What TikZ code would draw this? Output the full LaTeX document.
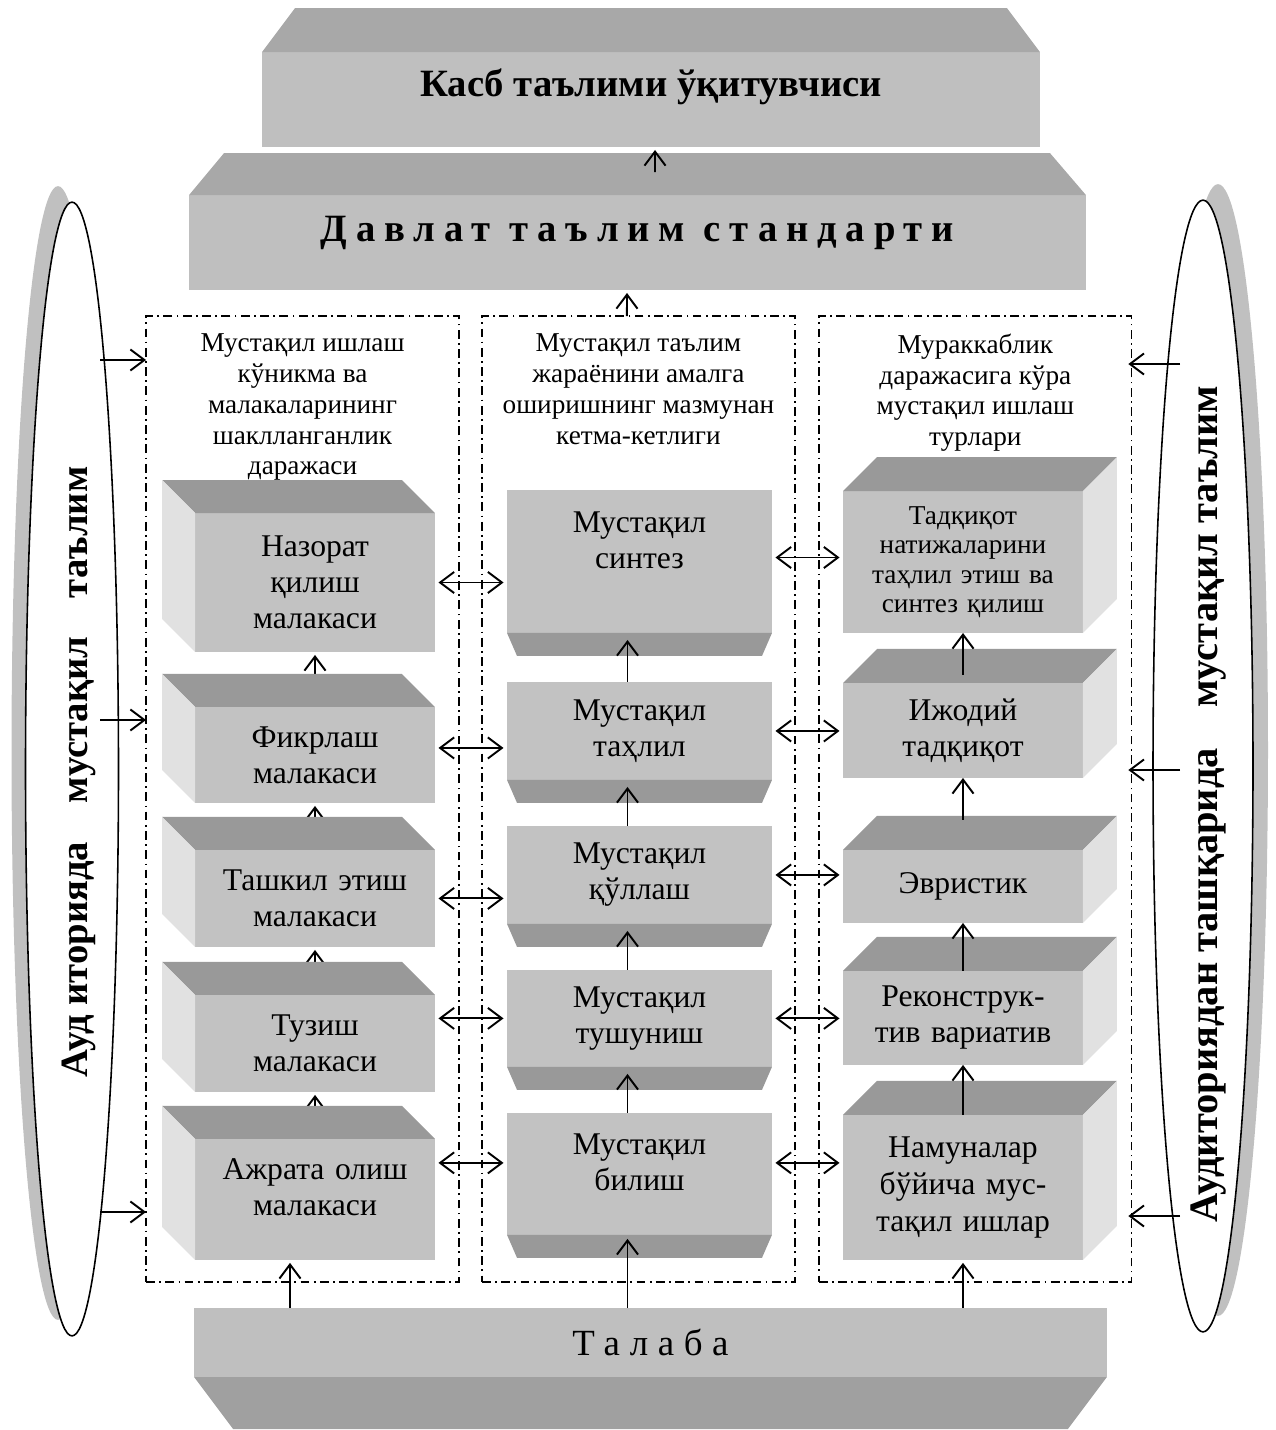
\documentclass[tikz,border=0pt]{standalone}
\usepackage{fontspec}
\setmainfont{Liberation Serif}
\usepackage{xcolor}
\usepackage{tikz}
\usetikzlibrary{positioning,calc,arrows.meta,shapes.geometric}

\definecolor{facegray}{RGB}{194,194,194}
\definecolor{topgray}{RGB}{153,153,153}
\definecolor{sidegray}{RGB}{225,225,225}
\definecolor{bigface}{RGB}{191,191,191}
\definecolor{bigtop}{RGB}{168,168,168}
\definecolor{botgray}{RGB}{160,160,160}
\definecolor{shadowgray}{RGB}{192,192,192}

% deep strut that lifts the lines of a tall box
\newcommand{\liftby}[1]{\rule[-#1]{0pt}{1pt}}

\begin{document}
\begin{tikzpicture}[x=0.02cm, y=-0.02cm]
        % Styles
        \tikzstyle{front} = [
            fill=facegray,
            inner sep=3pt,
            outer sep=0pt,
            align=center,
            font=\fontsize{18}{20.5}\selectfont
        ]
        \tikzstyle{lbox} = [front, minimum width=4.8cm, text width=4.4cm]
        \tikzstyle{mbox} = [front, minimum width=5.3cm, text width=4.9cm]
        \tikzstyle{rbox} = [front, minimum width=4.8cm, text width=4.4cm]
        \tikzstyle{bigbox} = [fill=bigface, outer sep=0pt, inner sep=3pt, align=center]
        \tikzstyle{colframe} = [
            draw,
            line width=0.7pt,
            dash pattern=on 5pt off 2.5pt on 1pt off 2.5pt,
            minimum width=6.26cm,
            minimum height=19.32cm,
            outer sep=0pt
        ]
        \tikzstyle{head} = [align=center, inner sep=2pt, font=\fontsize{15.5}{17.5}\selectfont]
        \tikzstyle{sidetext} = [inner sep=0pt, font=\fontsize{22}{26}\selectfont\bfseries]
        \tikzstyle{uparr} = [line width=1.1pt, -{Straight Barb[length=8pt, width=12pt]}]
        \tikzstyle{dblarr} = [line width=1.1pt, shorten <=2pt, shorten >=2pt,
            {Straight Barb[length=8pt, width=12pt]}-{Straight Barb[length=8pt, width=12pt]}]

        \useasboundingbox (0,0) rectangle (1275,1430);

        % Ellipses on both sides
        \node[ellipse, fill=shadowgray, minimum width=1.86cm, minimum height=22.68cm] (lshadow) at (58,753) {};
        \node[ellipse, draw, line width=0.9pt, fill=white, minimum width=1.86cm, minimum height=22.68cm] (lell) at (72,769) {};
        \node[sidetext, rotate=90] (ltext) at (79,772) {Ауд иторияда\quad мустақил\quad таълим};

        \node[ellipse, fill=shadowgray, minimum width=2cm, minimum height=22.64cm] (rshadow) at (1218,750) {};
        \node[ellipse, draw, line width=0.9pt, fill=white, minimum width=2cm, minimum height=22.64cm] (rell) at (1203,766) {};
        \node[sidetext, rotate=90, font=\fontsize{23}{27}\selectfont\bfseries] (rtext) at (1209,804)
            {Аудиториядан ташқарида\quad мустақил таълим};

        % Three dash-dot frames with their headings
        \node[colframe] (lframe) at (302.5,799) {};
        \node[colframe, right=0.46cm of lframe] (mframe) {};
        \node[colframe, right=0.48cm of mframe] (rframe) {};

        \node[head, anchor=north] (lhead) at ([shift={(0,14)}]lframe.north)
            {Мустақил ишлаш\\кўникма ва\\малакаларининг\\шаклланганлик\\даражаси};
        \node[head, anchor=north] (mhead) at ([shift={(0,14)}]mframe.north)
            {Мустақил таълим\\жараёнини амалга\\оширишнинг мазмунан\\кетма-кетлиги};
        \node[head, anchor=north] (rhead) at ([shift={(0,14)}]rframe.north)
            {Мураккаблик\\даражасига кўра\\мустақил ишлаш\\турлари};

        % Top boxes
        \node[bigbox, minimum width=15.56cm, minimum height=1.9cm, text depth=19.6pt,
            font=\fontsize{22}{26}\selectfont\bfseries] (kasb) at (651,99.5) {Касб таълими ўқитувчиси};
        \node[bigbox, minimum width=17.94cm, minimum height=1.9cm, text depth=15pt,
            font=\fontsize{22}{26}\selectfont\bfseries\addfontfeature{LetterSpace=23}] (davlat) at (637.5,242.5) {Давлат таълим стандарти};
        \fill[bigtop] (kasb.north west) -- (kasb.north east) -- ++(-33,-44) -- ([shift={(33,-44)}]kasb.north west) -- cycle;
        \fill[bigtop] (davlat.north west) -- (davlat.north east) -- ++(-36,-42) -- ([shift={(35,-42)}]davlat.north west) -- cycle;

        % Bottom box
        \node[bigbox, minimum width=18.26cm, minimum height=1.38cm,
            font=\fontsize{21}{24}\selectfont\addfontfeature{LetterSpace=26}] (talaba) at (650.5,1342.5) {Талаба};
        \fill[botgray] (talaba.south west) -- (talaba.south east) -- ++(-39,52) -- ([shift={(39,52)}]talaba.south west) -- cycle;

        % Left column
        \node[lbox, minimum height=2.78cm] (nazorat) at (315,582.5) {Назорат\\қилиш\\малакаси};
        \node[lbox, minimum height=1.92cm, below=1.1cm of nazorat] (fikrlash) {Фикрлаш\\малакаси};
        \node[lbox, minimum height=1.94cm, below=0.94cm of fikrlash] (tashkil) {Ташкил этиш\\малакаси};
        \node[lbox, minimum height=1.94cm, below=0.96cm of tashkil] (tuzish) {Тузиш\\малакаси};
        \node[lbox, minimum height=2.42cm, below=0.94cm of tuzish] (ajrata) {Ажрата олиш\\малакаси\liftby{13.6pt}};

        % arrows first, the top faces hide their lower part
        \draw[uparr] (fikrlash.north) -- ([shift={(0,3)}]nazorat.south);
        \draw[uparr] (tashkil.north) -- ([shift={(0,3)}]fikrlash.south);
        \draw[uparr] (tuzish.north) -- ([shift={(0,3)}]tashkil.south);
        \draw[uparr] (ajrata.north) -- ([shift={(0,3)}]tuzish.south);

        \foreach \nd in {nazorat,fikrlash,tashkil,tuzish,ajrata}{
            \fill[topgray] (\nd.north west) -- (\nd.north east) -- ++(-33,-33) -- ([shift={(-33,-33)}]\nd.north west) -- cycle;
            \fill[sidegray] (\nd.north west) -- ([shift={(-33,-33)}]\nd.north west) -- ([shift={(-33,-33)}]\nd.south west) -- (\nd.south west) -- cycle;
        }

        % Middle column
        \node[mbox, minimum height=2.86cm] (sintez) at (639.5,561.5) {Мустақил\\синтез\liftby{24pt}};
        \node[mbox, minimum height=1.96cm, below=0.98cm of sintez] (tahlil) {Мустақил\\таҳлил};
        \node[mbox, minimum height=1.96cm, below=0.92cm of tahlil] (qullash) {Мустақил\\қўллаш};
        \node[mbox, minimum height=1.94cm, below=0.92cm of qullash] (tushunish) {Мустақил\\тушуниш};
        \node[mbox, minimum height=2.44cm, below=0.92cm of tushunish] (bilish) {Мустақил\\билиш\liftby{13.6pt}};

        \foreach \nd in {sintez,tahlil,qullash,tushunish,bilish}{
            \fill[topgray] (\nd.south west) -- (\nd.south east) -- ++(-10,23) -- ([shift={(10,23)}]\nd.south west) -- cycle;
        }

        \draw[uparr] ([shift={(-12,0)}]tahlil.north) -- ([shift={(-12,7)}]sintez.south);
        \draw[uparr] ([shift={(-12,0)}]qullash.north) -- ([shift={(-12,7)}]tahlil.south);
        \draw[uparr] ([shift={(-12,0)}]tushunish.north) -- ([shift={(-12,7)}]qullash.south);
        \draw[uparr] ([shift={(-12,0)}]bilish.north) -- ([shift={(-12,7)}]tushunish.south);

        % Right column
        \node[rbox, minimum height=2.84cm, font=\fontsize{15.5}{16.8}\selectfont] (tadqiqot) at (963,562)
            {Тадқиқот\\натижаларини\\таҳлил этиш ва\\синтез қилиш};
        \node[rbox, minimum height=1.9cm, below=1.0cm of tadqiqot] (ijodiy) {Ижодий\\тадқиқот};
        \node[rbox, minimum height=1.46cm, below=1.44cm of ijodiy] (evristik) {Эвристик};
        \node[rbox, minimum height=1.88cm, below=0.96cm of evristik] (rekonstr) {Реконструк-\\тив вариатив};
        \node[rbox, minimum height=2.9cm, font=\fontsize{18}{21}\selectfont, below=1.0cm of rekonstr] (namunalar)
            {Намуналар\\бўйича мус-\\тақил ишлар};

        \foreach \nd in {tadqiqot,ijodiy,evristik,rekonstr,namunalar}{
            \fill[topgray] (\nd.north west) -- (\nd.north east) -- ++(34,-34) -- ([shift={(34,-34)}]\nd.north west) -- cycle;
            \fill[sidegray] (\nd.north east) -- ++(34,-34) -- ([shift={(34,-34)}]\nd.south east) -- (\nd.south east) -- cycle;
        }

        \draw[uparr] ([shift={(0,-8)}]ijodiy.north) -- (tadqiqot.south);
        \draw[uparr] ([shift={(0,-30)}]evristik.north) -- (ijodiy.south);
        \draw[uparr] (rekonstr.north) -- (evristik.south);
        \draw[uparr] (namunalar.north) -- (rekonstr.south);

        % Arrows between the top boxes
        \draw[uparr] ([shift={(17.5,-23)}]davlat.north) -- ([shift={(4,3)}]kasb.south);
        \draw[uparr] ([shift={(-11.5,0)}]mframe.north) -- ([shift={(-10.5,3)}]davlat.south);

        % Arrows from the student box
        \coordinate (t1) at ([shift={(-25,3)}]ajrata.south);
        \coordinate (t2) at ([shift={(-12,4)}]bilish.south);
        \coordinate (t3) at ([shift={(0,3)}]namunalar.south);
        \draw[uparr] (t1 |- talaba.north) -- (t1);
        \draw[uparr] (t2 |- talaba.north) -- (t2);
        \draw[uparr] (t3 |- talaba.north) -- (t3);

        % Double arrows, left - middle
        \coordinate (f1) at ([shift={(0,-7)}]fikrlash.east);
        \coordinate (b1) at ([shift={(0,-11)}]bilish.west);
        \draw[dblarr] (nazorat.east) -- (nazorat.east -| sintez.west);
        \draw[dblarr] (f1) -- (f1 -| tahlil.west);
        \draw[dblarr] (tashkil.east) -- (tashkil.east -| qullash.west);
        \draw[dblarr] (tushunish.west -| tuzish.east) -- (tushunish.west);
        \draw[dblarr] (b1 -| ajrata.east) -- (b1);

        % Double arrows, middle - right
        \coordinate (s1) at ([shift={(0,-4)}]sintez.east);
        \coordinate (b2) at ([shift={(0,-11)}]bilish.east);
        \draw[dblarr] (s1) -- (s1 -| tadqiqot.west);
        \draw[dblarr] (tahlil.east) -- (tahlil.east -| ijodiy.west);
        \draw[dblarr] (qullash.east) -- (qullash.east -| evristik.west);
        \draw[dblarr] (tushunish.east) -- (tushunish.east -| rekonstr.west);
        \draw[dblarr] (b2) -- (b2 -| namunalar.west);

        % Arrows out of the ellipses
        \coordinate (la1) at (100,360);
        \coordinate (la2) at (100,720);
        \coordinate (la3) at (100,1212);
        \coordinate (ra1) at (1180,364);
        \coordinate (ra2) at (1180,770);
        \coordinate (ra3) at (1180,1216);
        \foreach \c in {la1,la2,la3}{
            \draw[uparr] (\c) -- (\c -| lframe.west);
        }
        \foreach \c in {ra1,ra2,ra3}{
            \draw[uparr, shorten >=-2pt] (\c) -- (\c -| rframe.east);
        }

    \end{tikzpicture}
\end{document}
